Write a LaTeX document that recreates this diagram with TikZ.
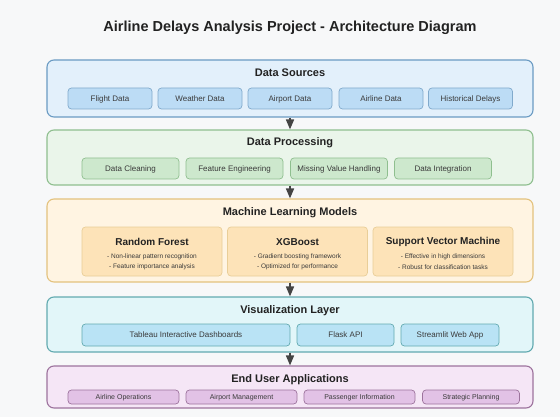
\documentclass[tikz,border=0pt]{standalone}
\usepackage{fontspec}
\setmainfont{Liberation Sans}
\usepackage{xcolor}
\usetikzlibrary{arrows.meta}

\definecolor{bg}{HTML}{F7F8F9}
\definecolor{txt}{HTML}{222222}
\definecolor{subtxt}{HTML}{3A3A3A}
\definecolor{arr}{HTML}{444444}
\definecolor{srcfill}{HTML}{E3F0FB}
\definecolor{srcdraw}{HTML}{6B9BC3}
\definecolor{srcbox}{HTML}{BCDCF5}
\definecolor{procfill}{HTML}{EAF5EA}
\definecolor{procdraw}{HTML}{8FBF8F}
\definecolor{procbox}{HTML}{CDE8CD}
\definecolor{mlfill}{HTML}{FFF4E2}
\definecolor{mldraw}{HTML}{E3C27E}
\definecolor{mlbox}{HTML}{FDE3B8}
\definecolor{visfill}{HTML}{E2F6F9}
\definecolor{visdraw}{HTML}{62AAB0}
\definecolor{visbox}{HTML}{B9E3F5}
\definecolor{appfill}{HTML}{F5E6F6}
\definecolor{appdraw}{HTML}{9D739D}
\definecolor{appbox}{HTML}{E2C2E6}

\begin{document}
\begin{tikzpicture}[
            x = 1pt, y = -1pt, % one unit per pixel, y going down
            > = {Triangle[width=8pt,length=10pt]}, % arrow head style
            layer/.style = {draw, line width=1.1pt, rounded corners=7pt,
                minimum width=486pt, inner sep=0pt},
            box/.style = {draw, line width=0.7pt, rounded corners=3.5pt,
                inner sep=0pt, text height=0.72em, text depth=0.2em,
                font=\fontsize{8}{9}\selectfont, text=subtxt},
            ltitle/.style = {font=\fontsize{11}{12}\selectfont\bfseries, text=txt},
            mtitle/.style = {font=\fontsize{10}{11}\selectfont\bfseries, text=txt},
            bullet/.style = {font=\fontsize{6.5}{7}\selectfont, text=subtxt},
            flow/.style = {->, arr, line width=1.6pt} % arrow between layers
        ]

\fill[bg] (0,0) rectangle (560,417);
\useasboundingbox (0,0) rectangle (560,417);

\node[font=\fontsize{14.5}{16}\selectfont\bfseries, text=txt] (title) at (290,28)
    {Airline Delays Analysis Project - Architecture Diagram};

% data sources
\node[layer, fill=srcfill, draw=srcdraw, minimum height=57pt] (src) at (290,88.5) {};
\node[ltitle] (src_t) at (290,73) {Data Sources};
\foreach \x/\name/\label in {110/flight/Flight Data, 200/weather/Weather Data,
        290/airport/Airport Data, 381/airline/Airline Data, 470.5/hist/Historical Delays}
    \node[box, fill=srcbox, draw=srcdraw!85, minimum width=84pt, minimum height=21pt]
        (\name) at (\x,98.5) {\label};

% data processing
\node[layer, fill=procfill, draw=procdraw, minimum height=55pt] (proc) at (290,157.5) {};
\node[ltitle] (proc_t) at (290,143) {Data Processing};
\foreach \x/\name/\label in {130.5/clean/Data Cleaning, 234.5/feat/Feature Engineering,
        339/miss/Missing Value Handling, 443/integ/Data Integration}
    \node[box, fill=procbox, draw=procdraw, minimum width=97pt, minimum height=21pt]
        (\name) at (\x,168.5) {\label};

% machine learning models
\node[layer, fill=mlfill, draw=mldraw, minimum height=83pt] (ml) at (290,240.5) {};
\node[ltitle] (ml_t) at (290,213) {Machine Learning Models};
\foreach \x/\name/\label/\one/\two in {
        152/rf/Random Forest/Non-linear pattern recognition/Feature importance analysis,
        297.5/xgb/XGBoost/Gradient boosting framework/Optimized for performance,
        443/svm/Support Vector Machine/Effective in high dimensions/Robust for classification tasks} {
    \node[box, fill=mlbox, draw=mldraw!80, minimum width=140pt, minimum height=49pt,
        text height=, text depth=] (\name) at (\x,251.5) {};
    \node[mtitle] (\name_t) at (\x,242) {\label};
    \node[bullet] (\name_a) at (\x,257) {- \one};
    \node[bullet] (\name_b) at (\x,267) {- \two};
}

% visualization layer
\node[layer, fill=visfill, draw=visdraw, minimum height=55pt] (vis) at (290,324.5) {};
\node[ltitle] (vis_t) at (290,311) {Visualization Layer};
\foreach \x/\w/\name/\label in {186/208/tableau/Tableau Interactive Dashboards,
        345.5/97/flask/Flask API, 450/98/streamlit/Streamlit Web App}
    \node[box, fill=visbox, draw=visdraw, minimum width=\w pt, minimum height=22pt]
        (\name) at (\x,335) {\label};

% end user applications
\node[layer, fill=appfill, draw=appdraw, minimum height=42pt] (app) at (290,387) {};
\node[ltitle] (app_t) at (290,380) {End User Applications};
\foreach \x/\w/\name/\label in {123.5/111/ops/Airline Operations,
        241.5/111/mgmt/Airport Management, 359.5/111/pax/Passenger Information,
        471/97/plan/Strategic Planning}
    \node[box, fill=appbox, draw=appdraw, minimum width=\w pt, minimum height=14pt,
        font=\fontsize{7}{8}\selectfont] (\name) at (\x,397) {\label};

 \path [flow] (src.south) edge (proc.north);
 \path [flow] (proc.south) edge (ml.north);
 \path [flow] (ml.south) edge (vis.north);
 \path [flow] (vis.south) edge (app.north);
\end{tikzpicture}
\end{document}
